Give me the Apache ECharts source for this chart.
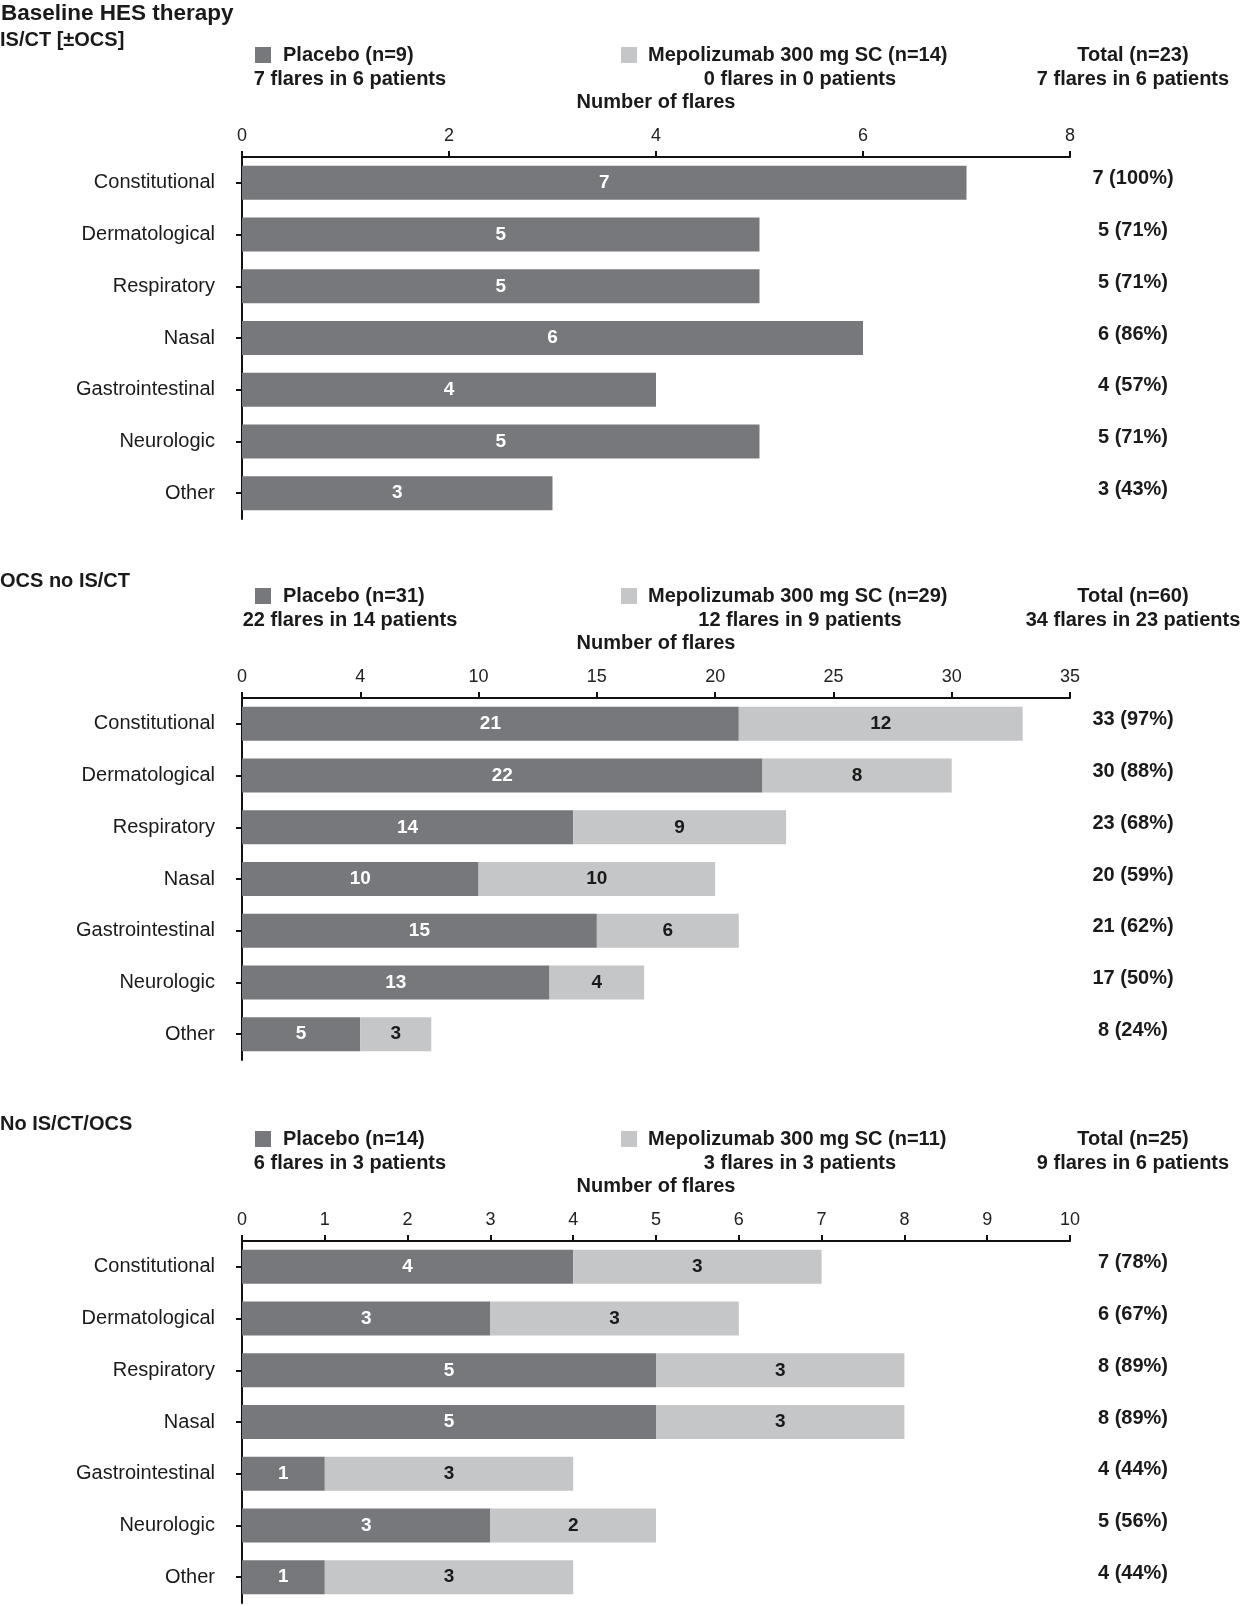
<!DOCTYPE html>
<html>
<head>
<meta charset="utf-8">
<script src="https://cdn.jsdelivr.net/npm/echarts@6/dist/echarts.min.js"></script>
<style>
  html, body { margin: 0; padding: 0; background: #fff; }
  #chart { width: 1240px; height: 1605px; }
</style>
</head>
<body>
<div id="chart"></div>
<script>
// ---------------- DATA ----------------
const categories = ['Constitutional', 'Dermatological', 'Respiratory', 'Nasal', 'Gastrointestinal', 'Neurologic', 'Other'];

const placebo1 = [7, 5, 5, 6, 4, 5, 3];
const mepo1 = [0, 0, 0, 0, 0, 0, 0];
const totals1 = ['7 (100%)', '5 (71%)', '5 (71%)', '6 (86%)', '4 (57%)', '5 (71%)', '3 (43%)'];

const placebo2 = [21, 22, 14, 10, 15, 13, 5];
const mepo2 = [12, 8, 9, 10, 6, 4, 3];
const totals2 = ['33 (97%)', '30 (88%)', '23 (68%)', '20 (59%)', '21 (62%)', '17 (50%)', '8 (24%)'];

const placebo3 = [4, 3, 5, 5, 1, 3, 1];
const mepo3 = [3, 3, 3, 3, 3, 2, 3];
const totals3 = ['7 (78%)', '6 (67%)', '8 (89%)', '8 (89%)', '4 (44%)', '5 (56%)', '4 (44%)'];

const axisMax = [8, 35, 10];
const axisStep = [2, 5, 1];
const ticks1 = ['0', '2', '4', '6', '8'];
const ticks2 = ['0', '4', '10', '15', '20', '25', '30', '35'];
const ticks3 = ['0', '1', '2', '3', '4', '5', '6', '7', '8', '9', '10'];

const mainTitle = 'Baseline HES therapy';
const groupTitles = ['IS/CT [±OCS]', 'OCS no IS/CT', 'No IS/CT/OCS'];
const placeboHeads = ['Placebo (n=9)', 'Placebo (n=31)', 'Placebo (n=14)'];
const placeboFlares = ['7 flares in 6 patients', '22 flares in 14 patients', '6 flares in 3 patients'];
const mepoHeads = ['Mepolizumab 300 mg SC (n=14)', 'Mepolizumab 300 mg SC (n=29)', 'Mepolizumab 300 mg SC (n=11)'];
const mepoFlares = ['0 flares in 0 patients', '12 flares in 9 patients', '3 flares in 3 patients'];
const totalHeads = ['Total (n=23)', 'Total (n=60)', 'Total (n=25)'];
const totalFlares = ['7 flares in 6 patients', '34 flares in 23 patients', '9 flares in 6 patients'];
const axisName = 'Number of flares';

// ---------------- STYLE / LAYOUT ----------------
const placeboData = [placebo1, placebo2, placebo3];
const mepoData = [mepo1, mepo2, mepo3];
const totalsData = [totals1, totals2, totals3];
const tickData = [ticks1, ticks2, ticks3];

const DARK = '#76787b';
const LIGHT = '#c5c6c7';
const INK = '#1a1a1a';
const FN = '"Liberation Sans Narrow", "Arial Narrow", "Liberation Sans", Arial, sans-serif';
const FR = '"Liberation Sans", Arial, Helvetica, sans-serif';

const GL = 242, GW = 828, GH = 362;
const tops = [157, 698, 1241];

const grid = [], xAxis = [], yAxis = [], series = [], graphic = [];

function txt(text, x, y, size, weight, align, family) {
  return {
    type: 'text', x: x, y: y, silent: true,
    style: {
      text: text, fill: INK,
      fontSize: size, fontWeight: weight, fontFamily: family,
      textAlign: align, textVerticalAlign: 'middle',
      align: align, verticalAlign: 'middle'
    }
  };
}

graphic.push(txt(mainTitle, 1, 14, 22.5, 'bold', 'left', FR));

for (let i = 0; i < 3; i++) {
  const t = tops[i];
  grid.push({ left: GL, top: t, width: GW, height: GH, containLabel: false });

  const labels = tickData[i];
  xAxis.push({
    gridIndex: i, type: 'value', position: 'top',
    min: 0, max: axisMax[i], interval: axisStep[i],
    axisLine: { show: true, lineStyle: { color: '#111', width: 2 } },
    axisTick: { show: true, inside: false, length: 6, lineStyle: { color: '#111', width: 2 } },
    splitLine: { show: false },
    axisLabel: {
      margin: 12, color: '#222', fontSize: 18, fontFamily: FN,
      formatter: function (v, idx) { return labels[idx] !== undefined ? labels[idx] : String(v); }
    }
  });

  yAxis.push({
    gridIndex: i, type: 'category', data: categories, inverse: true,
    axisLine: { show: true, lineStyle: { color: '#111', width: 2 } },
    axisTick: { show: true, alignWithLabel: true, length: 6, lineStyle: { color: '#111', width: 2 } },
    axisLabel: { margin: 27, color: INK, fontSize: 20, fontFamily: FR }
  });
  yAxis.push({
    gridIndex: i, type: 'category', data: totalsData[i], inverse: true, position: 'right',
    axisLine: { show: false }, axisTick: { show: false },
    axisLabel: {
      margin: 63, align: 'center', color: INK, fontSize: 20, fontWeight: 'bold', fontFamily: FN,
      verticalAlign: 'bottom', lineHeight: 8
    }
  });

  const lbl = function (color) {
    return {
      show: true, position: 'inside', color: color, fontSize: 19, fontWeight: 'bold', fontFamily: FN,
      formatter: function (p) { return p.value ? String(p.value) : ''; }
    };
  };
  series.push({
    name: placeboHeads[i], type: 'bar', xAxisIndex: i, yAxisIndex: 2 * i, stack: 's' + i,
    barWidth: 34, data: placeboData[i], itemStyle: { color: DARK },
    label: lbl('#ffffff'), silent: true, animation: false
  });
  series.push({
    name: mepoHeads[i], type: 'bar', xAxisIndex: i, yAxisIndex: 2 * i, stack: 's' + i,
    barWidth: 34, data: mepoData[i], itemStyle: { color: LIGHT },
    label: lbl(INK), silent: true, animation: false
  });

  // headers
  graphic.push(txt(groupTitles[i], 0, t - 117, 20, 'bold', 'left', FR));
  graphic.push({ type: 'rect', silent: true, shape: { x: 255, y: t - 110, width: 16, height: 16 }, style: { fill: DARK } });
  graphic.push(txt(placeboHeads[i], 283, t - 102, 20, 'bold', 'left', FN));
  graphic.push(txt(placeboFlares[i], 350, t - 78, 20, 'bold', 'center', FN));
  graphic.push({ type: 'rect', silent: true, shape: { x: 621, y: t - 110, width: 16, height: 16 }, style: { fill: LIGHT } });
  graphic.push(txt(mepoHeads[i], 648, t - 102, 20, 'bold', 'left', FN));
  graphic.push(txt(mepoFlares[i], 800, t - 78, 20, 'bold', 'center', FN));
  graphic.push(txt(totalHeads[i], 1133, t - 102, 20, 'bold', 'center', FN));
  graphic.push(txt(totalFlares[i], 1133, t - 78, 20, 'bold', 'center', FN));
  graphic.push(txt(axisName, 656, t - 55, 20, 'bold', 'center', FN));
}

const chart = echarts.init(document.getElementById('chart'), null, { renderer: 'canvas' });
chart.setOption({
  animation: false,
  backgroundColor: '#ffffff',
  grid: grid, xAxis: xAxis, yAxis: yAxis, series: series, graphic: graphic
});
</script>
</body>
</html>
